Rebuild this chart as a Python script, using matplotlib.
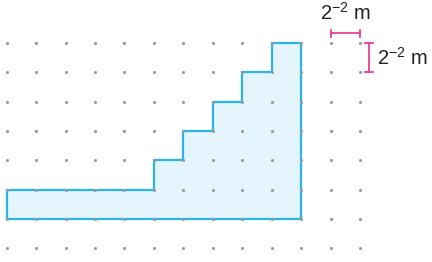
import matplotlib.pyplot as plt
import matplotlib as mpl

mpl.rcParams['font.family'] = 'Liberation Sans'
mpl.rcParams['mathtext.fontset'] = 'custom'
mpl.rcParams['mathtext.rm'] = 'Liberation Sans'

# dot grid size (columns, rows)
n_cols = 13
n_rows = 8

# staircase outline, (column, row) with row 0 at the top
shape_cols = [0, 5, 5, 6, 6, 7, 7, 8, 8, 9, 9, 10, 10, 0]
shape_rows = [5, 5, 4, 4, 3, 3, 2, 2, 1, 1, 0, 0, 6, 6]

# scale bars
hbar_cols = [11, 12]
hbar_row = -0.33
vbar_col = 12.3
vbar_rows = [0, 1]
label = r'2$^{\mathregular{-2}}$ m'

blue = '#29b5e8'
fill = '#e5f5fd'
pink = '#ea3f97'
grey = '#9a9a9a'

fig = plt.figure(figsize=(4.32, 2.62), dpi=100)
ax = fig.add_axes([0, 0, 1, 1])

ax.fill(shape_cols, shape_rows, facecolor=fill, edgecolor=blue, linewidth=1.6, zorder=1)

gx = [c for c in range(n_cols) for r in range(n_rows)]
gy = [r for c in range(n_cols) for r in range(n_rows)]
ax.scatter(gx, gy, s=5, color=grey, zorder=3, linewidths=0)

# horizontal scale bar
ax.plot(hbar_cols, [hbar_row, hbar_row], color=pink, lw=1.3)
for c in hbar_cols:
    ax.plot([c, c], [hbar_row - 0.13, hbar_row + 0.13], color=pink, lw=1.3)
ax.text(sum(hbar_cols) / 2, hbar_row - 0.45, label, ha='center', va='baseline', fontsize=14.5, color='#222222')

# vertical scale bar
ax.plot([vbar_col, vbar_col], vbar_rows, color=pink, lw=1.3)
for r in vbar_rows:
    ax.plot([vbar_col - 0.13, vbar_col + 0.13], [r, r], color=pink, lw=1.3)
ax.text(vbar_col + 0.28, sum(vbar_rows) / 2, label, ha='left', va='center', fontsize=14.5, color='#222222')

ax.set_xlim(-0.228, 14.446)
ax.set_ylim(7.467, -1.466)
ax.axis('off')

plt.savefig('out.png', dpi=100)
